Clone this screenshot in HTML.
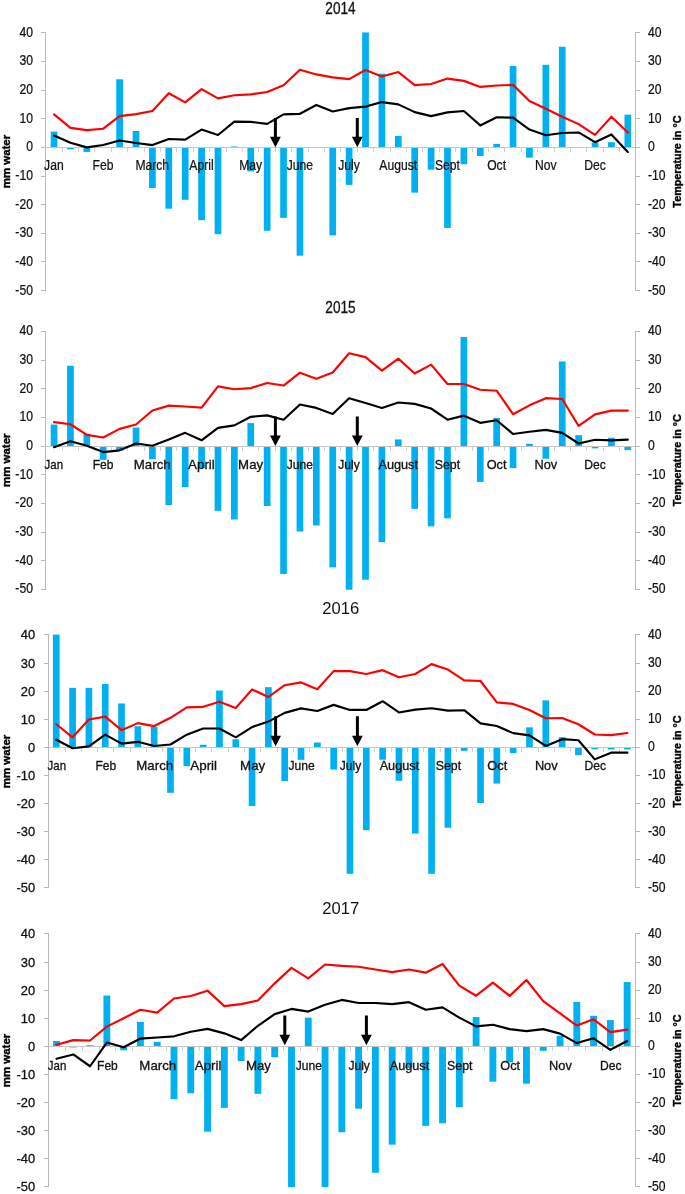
<!DOCTYPE html>
<html lang="en">
<head>
<meta charset="utf-8">
<title>Water balance and temperature 2014-2017</title>
<style>
html,body{margin:0;padding:0;background:#fff;}
body{width:685px;height:1194px;overflow:hidden;}
svg{display:block;will-change:transform;}
text{font-family:"Liberation Sans",Arial,Helvetica,sans-serif;fill:#111;}
.nar{font-size:15px;stroke:#111;stroke-width:0.25px;}
.cal{font-size:12.9px;stroke:#111;stroke-width:0.3px;}
.xcal{font-size:12.6px;stroke:#111;stroke-width:0.3px;}
.tn{font-size:16.4px;stroke:#111;stroke-width:0.3px;}
.tc{font-size:16.6px;}
.ax{stroke:#b9b9b9;stroke-width:1;fill:none;shape-rendering:crispEdges;}
.axh{stroke:#c6c6c6;}
.axt{stroke:#d0d0d0;}
.bar{fill:#00b0f0;}
.red{stroke:#ff0000;stroke-width:2.15;fill:none;stroke-linejoin:round;stroke-linecap:round;}
.blk{stroke:#000;stroke-width:2.15;fill:none;stroke-linejoin:round;stroke-linecap:round;}
.lab{font-weight:bold;font-size:11.8px;fill:#000;stroke:#000;stroke-width:0.4px;}
</style>
</head>
<body>
<svg width="685" height="1194" viewBox="0 0 685 1194">
<rect x="0" y="0" width="685" height="1194" fill="#ffffff"/>
<g id="panel1">
<text transform="translate(340.5 14) scale(0.83 1)" class="tn" text-anchor="middle">2014</text>
<g class="bar">
<rect x="50.7" y="131.58" width="6.69" height="15.77"/>
<rect x="67.09" y="147.35" width="6.69" height="2.02"/>
<rect x="83.49" y="147.35" width="6.69" height="4.6"/>
<rect x="116.27" y="79.28" width="6.69" height="68.07"/>
<rect x="132.67" y="131" width="6.69" height="16.35"/>
<rect x="149.06" y="147.35" width="6.69" height="40.7"/>
<rect x="165.45" y="147.35" width="6.69" height="61.34"/>
<rect x="181.84" y="147.35" width="6.69" height="52.45"/>
<rect x="198.24" y="147.35" width="6.69" height="72.8"/>
<rect x="214.63" y="147.35" width="6.69" height="86.84"/>
<rect x="231.02" y="146.48" width="6.69" height="0.87"/>
<rect x="247.42" y="147.35" width="6.69" height="24.08"/>
<rect x="263.81" y="147.35" width="6.69" height="83.4"/>
<rect x="280.2" y="147.35" width="6.69" height="70.51"/>
<rect x="296.6" y="147.35" width="6.69" height="108.33"/>
<rect x="329.38" y="147.35" width="6.69" height="87.99"/>
<rect x="345.77" y="147.35" width="6.69" height="37.55"/>
<rect x="362.17" y="32.43" width="6.69" height="114.92"/>
<rect x="378.56" y="73.69" width="6.69" height="73.66"/>
<rect x="394.95" y="135.87" width="6.69" height="11.48"/>
<rect x="411.35" y="147.35" width="6.69" height="45.29"/>
<rect x="427.74" y="147.35" width="6.69" height="22.36"/>
<rect x="444.13" y="147.35" width="6.69" height="80.54"/>
<rect x="460.53" y="147.35" width="6.69" height="16.92"/>
<rect x="476.92" y="147.35" width="6.69" height="8.61"/>
<rect x="493.31" y="143.9" width="6.69" height="3.45"/>
<rect x="509.71" y="65.95" width="6.69" height="81.4"/>
<rect x="526.1" y="147.35" width="6.69" height="10.33"/>
<rect x="542.49" y="64.81" width="6.69" height="82.54"/>
<rect x="558.88" y="46.76" width="6.69" height="100.59"/>
<rect x="591.67" y="142.47" width="6.69" height="4.88"/>
<rect x="608.06" y="142.18" width="6.69" height="5.17"/>
<rect x="624.46" y="114.67" width="6.69" height="32.68"/>
</g>
<path class="ax" d="M45.5 32 V291 M635.5 32 V291 M41 32.5 H45.5 M635.5 32.5 H640 M41 61.5 H45.5 M635.5 61.5 H640 M41 90.5 H45.5 M635.5 90.5 H640 M41 118.5 H45.5 M635.5 118.5 H640 M41 147.5 H45.5 M635.5 147.5 H640 M41 176.5 H45.5 M635.5 176.5 H640 M41 204.5 H45.5 M635.5 204.5 H640 M41 233.5 H45.5 M635.5 233.5 H640 M41 261.5 H45.5 M635.5 261.5 H640 M41 290.5 H45.5 M635.5 290.5 H640"/>
<path class="ax axh" d="M45.5 147.5 H635.5"/>
<path class="ax axt" d="M62.5 148 V152 M78.5 148 V152 M94.5 148 V152 M111.5 148 V152 M127.5 148 V152 M144.5 148 V152 M160.5 148 V152 M176.5 148 V152 M193.5 148 V152 M209.5 148 V152 M226.5 148 V152 M242.5 148 V152 M258.5 148 V152 M275.5 148 V152 M291.5 148 V152 M308.5 148 V152 M324.5 148 V152 M340.5 148 V152 M357.5 148 V152 M373.5 148 V152 M390.5 148 V152 M406.5 148 V152 M422.5 148 V152 M439.5 148 V152 M455.5 148 V152 M472.5 148 V152 M488.5 148 V152 M504.5 148 V152 M521.5 148 V152 M537.5 148 V152 M554.5 148 V152 M570.5 148 V152 M586.5 148 V152 M603.5 148 V152 M619.5 148 V152"/>
<text transform="translate(32.9 36.63) scale(0.81 1)" class="nar" text-anchor="end">40</text>
<text transform="translate(648 36.73) scale(0.81 1)" class="nar" text-anchor="start">40</text>
<text transform="translate(32.9 65.28) scale(0.81 1)" class="nar" text-anchor="end">30</text>
<text transform="translate(648 65.38) scale(0.81 1)" class="nar" text-anchor="start">30</text>
<text transform="translate(32.9 93.94) scale(0.81 1)" class="nar" text-anchor="end">20</text>
<text transform="translate(648 94.04) scale(0.81 1)" class="nar" text-anchor="start">20</text>
<text transform="translate(32.9 122.59) scale(0.81 1)" class="nar" text-anchor="end">10</text>
<text transform="translate(648 122.69) scale(0.81 1)" class="nar" text-anchor="start">10</text>
<text transform="translate(32.9 151.25) scale(0.81 1)" class="nar" text-anchor="end">0</text>
<text transform="translate(648 151.35) scale(0.81 1)" class="nar" text-anchor="start">0</text>
<text transform="translate(32.9 179.91) scale(0.81 1)" class="nar" text-anchor="end">-10</text>
<text transform="translate(648 180.01) scale(0.81 1)" class="nar" text-anchor="start">-10</text>
<text transform="translate(32.9 208.56) scale(0.81 1)" class="nar" text-anchor="end">-20</text>
<text transform="translate(648 208.66) scale(0.81 1)" class="nar" text-anchor="start">-20</text>
<text transform="translate(32.9 237.22) scale(0.81 1)" class="nar" text-anchor="end">-30</text>
<text transform="translate(648 237.32) scale(0.81 1)" class="nar" text-anchor="start">-30</text>
<text transform="translate(32.9 265.87) scale(0.81 1)" class="nar" text-anchor="end">-40</text>
<text transform="translate(648 265.97) scale(0.81 1)" class="nar" text-anchor="start">-40</text>
<text transform="translate(32.9 294.53) scale(0.81 1)" class="nar" text-anchor="end">-50</text>
<text transform="translate(648 294.63) scale(0.81 1)" class="nar" text-anchor="start">-50</text>
<text transform="translate(53.85 169.6) scale(0.81 1)" class="nar" text-anchor="middle">Jan</text>
<text transform="translate(103.05 169.6) scale(0.81 1)" class="nar" text-anchor="middle">Feb</text>
<text transform="translate(152.24 169.6) scale(0.81 1)" class="nar" text-anchor="middle">March</text>
<text transform="translate(201.44 169.6) scale(0.81 1)" class="nar" text-anchor="middle">April</text>
<text transform="translate(250.63 169.6) scale(0.81 1)" class="nar" text-anchor="middle">May</text>
<text transform="translate(299.83 169.6) scale(0.81 1)" class="nar" text-anchor="middle">June</text>
<text transform="translate(349.02 169.6) scale(0.81 1)" class="nar" text-anchor="middle">July</text>
<text transform="translate(398.22 169.6) scale(0.81 1)" class="nar" text-anchor="middle">August</text>
<text transform="translate(447.42 169.6) scale(0.81 1)" class="nar" text-anchor="middle">Sept</text>
<text transform="translate(496.61 169.6) scale(0.81 1)" class="nar" text-anchor="middle">Oct</text>
<text transform="translate(545.81 169.6) scale(0.81 1)" class="nar" text-anchor="middle">Nov</text>
<text transform="translate(595 169.6) scale(0.81 1)" class="nar" text-anchor="middle">Dec</text>
<text transform="translate(10 161.55) rotate(-90) scale(0.972 1)" class="lab" text-anchor="middle">mm water</text>
<text transform="translate(680.8 161.55) rotate(-90) scale(0.915 1)" class="lab" text-anchor="middle">Temperature in °C</text>
<polyline class="red" points="54.05,114.4 70.44,127.86 86.83,130.16 103.23,128.72 119.62,116.12 136.01,114.11 152.4,110.96 168.8,93.19 185.19,102.36 201.58,89.18 217.98,98.35 234.37,95.2 250.76,94.34 267.16,92.04 283.55,85.17 299.94,69.69 316.34,74.42 332.73,77.43 349.12,79.15 365.51,69.98 381.91,76.57 398.3,71.99 414.69,85.17 431.09,84.02 447.48,78.58 463.87,80.87 480.27,86.89 496.66,85.45 513.05,84.88 529.45,100.93 545.84,108.66 562.23,116.69 578.62,124.14 595.02,134.88 611.41,116.69 627.8,132.45"/>
<polyline class="blk" points="54.05,135.6 70.44,142.77 86.83,147.35 103.23,145.06 119.62,140.47 136.01,143.05 152.4,145.06 168.8,139.04 185.19,139.61 201.58,129.58 217.98,135.03 234.37,121.56 250.76,121.85 267.16,123.85 283.55,114.4 299.94,113.82 316.34,104.94 332.73,111.53 349.12,108.09 365.51,106.66 381.91,102.07 398.3,104.37 414.69,112.1 431.09,116.12 447.48,112.39 463.87,110.96 480.27,125.43 496.66,117.26 513.05,117.69 529.45,129.58 545.84,135.31 562.23,133.02 578.62,132.45 595.02,142.19 611.41,134.45 627.8,151.93"/>
<path fill="#000" d="M273.9 118.1 H276.9 V136.8 H280.8 L275.4 147.3 L270 136.8 H273.9 Z"/>
<path fill="#000" d="M355.8 118.1 H358.8 V136.8 H362.7 L357.3 147.3 L351.9 136.8 H355.8 Z"/>
</g>
<g id="panel2">
<text transform="translate(340.5 312.7) scale(0.83 1)" class="tn" text-anchor="middle">2015</text>
<g class="bar">
<rect x="50.7" y="424.54" width="6.69" height="21.52"/>
<rect x="67.09" y="365.75" width="6.69" height="80.31"/>
<rect x="83.49" y="433.72" width="6.69" height="12.34"/>
<rect x="99.88" y="446.06" width="6.69" height="13.78"/>
<rect x="116.27" y="446.06" width="6.69" height="4.6"/>
<rect x="132.67" y="427.55" width="6.69" height="18.51"/>
<rect x="149.06" y="446.06" width="6.69" height="13.2"/>
<rect x="165.45" y="446.06" width="6.69" height="58.95"/>
<rect x="181.84" y="446.06" width="6.69" height="41.02"/>
<rect x="198.24" y="446.06" width="6.69" height="22.1"/>
<rect x="214.63" y="446.06" width="6.69" height="64.82"/>
<rect x="231.02" y="446.06" width="6.69" height="73.43"/>
<rect x="247.42" y="423.1" width="6.69" height="22.96"/>
<rect x="263.81" y="446.06" width="6.69" height="59.95"/>
<rect x="280.2" y="446.06" width="6.69" height="127.92"/>
<rect x="296.6" y="446.06" width="6.69" height="85.47"/>
<rect x="312.99" y="446.06" width="6.69" height="79.45"/>
<rect x="329.38" y="446.06" width="6.69" height="121.32"/>
<rect x="345.77" y="446.06" width="6.69" height="143.69"/>
<rect x="362.17" y="446.06" width="6.69" height="133.65"/>
<rect x="378.56" y="446.06" width="6.69" height="96.08"/>
<rect x="394.95" y="439.45" width="6.69" height="6.61"/>
<rect x="411.35" y="446.06" width="6.69" height="62.82"/>
<rect x="427.74" y="446.06" width="6.69" height="80.31"/>
<rect x="444.13" y="446.06" width="6.69" height="72.28"/>
<rect x="460.53" y="337.07" width="6.69" height="108.99"/>
<rect x="476.92" y="446.06" width="6.69" height="35.86"/>
<rect x="493.31" y="417.94" width="6.69" height="28.12"/>
<rect x="509.71" y="446.06" width="6.69" height="22.1"/>
<rect x="526.1" y="443.75" width="6.69" height="2.31"/>
<rect x="542.49" y="446.06" width="6.69" height="12.63"/>
<rect x="558.88" y="361.45" width="6.69" height="84.61"/>
<rect x="575.28" y="435.15" width="6.69" height="10.91"/>
<rect x="591.67" y="446.06" width="6.69" height="2.31"/>
<rect x="608.06" y="437.73" width="6.69" height="8.33"/>
<rect x="624.46" y="446.06" width="6.69" height="4.03"/>
</g>
<path class="ax" d="M45.5 331 V590 M635.5 331 V590 M41 331.5 H45.5 M635.5 331.5 H640 M41 360.5 H45.5 M635.5 360.5 H640 M41 388.5 H45.5 M635.5 388.5 H640 M41 417.5 H45.5 M635.5 417.5 H640 M41 446.5 H45.5 M635.5 446.5 H640 M41 474.5 H45.5 M635.5 474.5 H640 M41 503.5 H45.5 M635.5 503.5 H640 M41 532.5 H45.5 M635.5 532.5 H640 M41 560.5 H45.5 M635.5 560.5 H640 M41 589.5 H45.5 M635.5 589.5 H640"/>
<path class="ax axh" d="M45.5 446.5 H635.5"/>
<path class="ax axt" d="M62.5 447 V451 M78.5 447 V451 M94.5 447 V451 M111.5 447 V451 M127.5 447 V451 M144.5 447 V451 M160.5 447 V451 M176.5 447 V451 M193.5 447 V451 M209.5 447 V451 M226.5 447 V451 M242.5 447 V451 M258.5 447 V451 M275.5 447 V451 M291.5 447 V451 M308.5 447 V451 M324.5 447 V451 M340.5 447 V451 M357.5 447 V451 M373.5 447 V451 M390.5 447 V451 M406.5 447 V451 M422.5 447 V451 M439.5 447 V451 M455.5 447 V451 M472.5 447 V451 M488.5 447 V451 M504.5 447 V451 M521.5 447 V451 M537.5 447 V451 M554.5 447 V451 M570.5 447 V451 M586.5 447 V451 M603.5 447 V451 M619.5 447 V451"/>
<text transform="translate(32.9 335.25) scale(0.81 1)" class="nar" text-anchor="end">40</text>
<text transform="translate(648 335.35) scale(0.81 1)" class="nar" text-anchor="start">40</text>
<text transform="translate(32.9 363.93) scale(0.81 1)" class="nar" text-anchor="end">30</text>
<text transform="translate(648 364.03) scale(0.81 1)" class="nar" text-anchor="start">30</text>
<text transform="translate(32.9 392.6) scale(0.81 1)" class="nar" text-anchor="end">20</text>
<text transform="translate(648 392.7) scale(0.81 1)" class="nar" text-anchor="start">20</text>
<text transform="translate(32.9 421.28) scale(0.81 1)" class="nar" text-anchor="end">10</text>
<text transform="translate(648 421.38) scale(0.81 1)" class="nar" text-anchor="start">10</text>
<text transform="translate(32.9 449.96) scale(0.81 1)" class="nar" text-anchor="end">0</text>
<text transform="translate(648 450.06) scale(0.81 1)" class="nar" text-anchor="start">0</text>
<text transform="translate(32.9 478.64) scale(0.81 1)" class="nar" text-anchor="end">-10</text>
<text transform="translate(648 478.74) scale(0.81 1)" class="nar" text-anchor="start">-10</text>
<text transform="translate(32.9 507.32) scale(0.81 1)" class="nar" text-anchor="end">-20</text>
<text transform="translate(648 507.42) scale(0.81 1)" class="nar" text-anchor="start">-20</text>
<text transform="translate(32.9 535.99) scale(0.81 1)" class="nar" text-anchor="end">-30</text>
<text transform="translate(648 536.09) scale(0.81 1)" class="nar" text-anchor="start">-30</text>
<text transform="translate(32.9 564.67) scale(0.81 1)" class="nar" text-anchor="end">-40</text>
<text transform="translate(648 564.77) scale(0.81 1)" class="nar" text-anchor="start">-40</text>
<text transform="translate(32.9 593.35) scale(0.81 1)" class="nar" text-anchor="end">-50</text>
<text transform="translate(648 593.45) scale(0.81 1)" class="nar" text-anchor="start">-50</text>
<text x="53.85" y="469.1" class="xcal" text-anchor="middle" textLength="18.5" lengthAdjust="spacingAndGlyphs">Jan</text>
<text x="103.05" y="469.1" class="xcal" text-anchor="middle" textLength="20.7" lengthAdjust="spacingAndGlyphs">Feb</text>
<text x="152.24" y="469.1" class="xcal" text-anchor="middle" textLength="36.8" lengthAdjust="spacingAndGlyphs">March</text>
<text x="201.44" y="469.1" class="xcal" text-anchor="middle" textLength="26.8" lengthAdjust="spacingAndGlyphs">April</text>
<text x="250.63" y="469.1" class="xcal" text-anchor="middle" textLength="25" lengthAdjust="spacingAndGlyphs">May</text>
<text x="299.83" y="469.1" class="xcal" text-anchor="middle" textLength="26.1" lengthAdjust="spacingAndGlyphs">June</text>
<text x="349.02" y="469.1" class="xcal" text-anchor="middle" textLength="21.4" lengthAdjust="spacingAndGlyphs">July</text>
<text x="398.22" y="469.1" class="xcal" text-anchor="middle" textLength="39.6" lengthAdjust="spacingAndGlyphs">August</text>
<text x="447.42" y="469.1" class="xcal" text-anchor="middle" textLength="25.4" lengthAdjust="spacingAndGlyphs">Sept</text>
<text x="496.61" y="469.1" class="xcal" text-anchor="middle" textLength="19.9" lengthAdjust="spacingAndGlyphs">Oct</text>
<text x="545.81" y="469.1" class="xcal" text-anchor="middle" textLength="22.75" lengthAdjust="spacingAndGlyphs">Nov</text>
<text x="595" y="469.1" class="xcal" text-anchor="middle" textLength="21.5" lengthAdjust="spacingAndGlyphs">Dec</text>
<text transform="translate(10 460.26) rotate(-90) scale(0.972 1)" class="lab" text-anchor="middle">mm water</text>
<text transform="translate(680.8 460.26) rotate(-90) scale(0.915 1)" class="lab" text-anchor="middle">Temperature in °C</text>
<polyline class="red" points="54.05,422.11 70.44,424.26 86.83,434.88 103.23,437.46 119.62,428.85 136.01,424.55 152.4,410.5 168.8,405.62 185.19,406.48 201.58,407.63 217.98,386.41 234.37,389.28 250.76,388.13 267.16,382.97 283.55,385.55 299.94,372.64 316.34,378.67 332.73,372.5 349.12,353.29 365.51,357.16 381.91,370.64 398.3,358.59 414.69,373.51 431.09,364.62 447.48,383.97 463.87,383.97 480.27,389.71 496.66,390.71 513.05,414.23 529.45,405.34 545.84,398.17 562.23,399.03 578.62,425.99 595.02,414.37 611.41,410.64 627.8,410.64"/>
<polyline class="blk" points="54.05,447.21 70.44,441.33 86.83,445.77 103.23,452.08 119.62,450.36 136.01,443.48 152.4,445.77 168.8,439.46 185.19,432.87 201.58,440.32 217.98,427.85 234.37,425.41 250.76,416.81 267.16,415.37 283.55,419.68 299.94,404.48 316.34,407.92 332.73,413.94 349.12,398.17 365.51,403.04 381.91,407.92 398.3,402.47 414.69,403.9 431.09,408.49 447.48,419.68 463.87,415.66 480.27,422.83 496.66,420.25 513.05,434.02 529.45,431.72 545.84,429.86 562.23,432.87 578.62,443.48 595.02,439.75 611.41,440.32 627.8,439.61"/>
<path fill="#000" d="M273.9 416.6 H276.9 V435.5 H280.8 L275.4 446 L270 435.5 H273.9 Z"/>
<path fill="#000" d="M355.8 416.6 H358.8 V435.5 H362.7 L357.3 446 L351.9 435.5 H355.8 Z"/>
</g>
<g id="panel3">
<text x="340.7" y="614.1" class="tc" text-anchor="middle">2016</text>
<g class="bar">
<rect x="52.93" y="634.6" width="6.66" height="112.7"/>
<rect x="69.25" y="687.85" width="6.66" height="59.45"/>
<rect x="85.57" y="687.85" width="6.66" height="59.45"/>
<rect x="101.88" y="684.06" width="6.66" height="63.24"/>
<rect x="118.2" y="703.45" width="6.66" height="43.85"/>
<rect x="134.52" y="726.21" width="6.66" height="21.09"/>
<rect x="150.84" y="726.63" width="6.66" height="20.67"/>
<rect x="167.16" y="747.3" width="6.66" height="45.54"/>
<rect x="183.47" y="747.3" width="6.66" height="18.85"/>
<rect x="199.79" y="744.75" width="6.66" height="2.55"/>
<rect x="216.11" y="690.52" width="6.66" height="56.78"/>
<rect x="232.43" y="739.27" width="6.66" height="8.03"/>
<rect x="248.75" y="747.3" width="6.66" height="58.75"/>
<rect x="265.06" y="687.15" width="6.66" height="60.15"/>
<rect x="281.38" y="747.3" width="6.66" height="33.74"/>
<rect x="297.7" y="747.3" width="6.66" height="12.52"/>
<rect x="314.02" y="742.5" width="6.66" height="4.8"/>
<rect x="330.34" y="747.3" width="6.66" height="22.22"/>
<rect x="346.65" y="747.3" width="6.66" height="126.47"/>
<rect x="362.97" y="747.3" width="6.66" height="82.91"/>
<rect x="379.29" y="747.3" width="6.66" height="12.38"/>
<rect x="395.61" y="747.3" width="6.66" height="33.46"/>
<rect x="411.93" y="747.3" width="6.66" height="86.29"/>
<rect x="428.24" y="747.3" width="6.66" height="126.47"/>
<rect x="444.56" y="747.3" width="6.66" height="80.38"/>
<rect x="460.88" y="747.3" width="6.66" height="3.53"/>
<rect x="477.2" y="747.3" width="6.66" height="55.66"/>
<rect x="493.52" y="747.3" width="6.66" height="36.27"/>
<rect x="509.84" y="747.3" width="6.66" height="5.78"/>
<rect x="526.15" y="727.33" width="6.66" height="19.97"/>
<rect x="542.47" y="700.35" width="6.66" height="46.95"/>
<rect x="558.79" y="737.16" width="6.66" height="10.13"/>
<rect x="575.11" y="747.3" width="6.66" height="7.89"/>
<rect x="591.43" y="747.3" width="6.66" height="1.99"/>
<rect x="607.74" y="747.3" width="6.66" height="2.13"/>
<rect x="624.06" y="747.3" width="6.66" height="2.13"/>
</g>
<path class="ax" d="M48.5 634 V888 M635.5 634 V888 M44 634.5 H48.5 M635.5 634.5 H640 M44 663.5 H48.5 M635.5 663.5 H640 M44 691.5 H48.5 M635.5 691.5 H640 M44 719.5 H48.5 M635.5 719.5 H640 M44 747.5 H48.5 M635.5 747.5 H640 M44 775.5 H48.5 M635.5 775.5 H640 M44 803.5 H48.5 M635.5 803.5 H640 M44 831.5 H48.5 M635.5 831.5 H640 M44 859.5 H48.5 M635.5 859.5 H640 M44 887.5 H48.5 M635.5 887.5 H640"/>
<path class="ax axh" d="M48.5 747.5 H635.5"/>
<path class="ax axt" d="M65.5 748 V752 M81.5 748 V752 M97.5 748 V752 M113.5 748 V752 M130.5 748 V752 M146.5 748 V752 M162.5 748 V752 M179.5 748 V752 M195.5 748 V752 M211.5 748 V752 M228.5 748 V752 M244.5 748 V752 M260.5 748 V752 M277.5 748 V752 M293.5 748 V752 M309.5 748 V752 M326.5 748 V752 M342.5 748 V752 M358.5 748 V752 M374.5 748 V752 M391.5 748 V752 M407.5 748 V752 M423.5 748 V752 M440.5 748 V752 M456.5 748 V752 M472.5 748 V752 M489.5 748 V752 M505.5 748 V752 M521.5 748 V752 M538.5 748 V752 M554.5 748 V752 M570.5 748 V752 M587.5 748 V752 M603.5 748 V752 M619.5 748 V752"/>
<text x="35.1" y="639.4" class="cal" text-anchor="end">40</text>
<text transform="translate(648 638.9) scale(0.81 1)" class="nar" text-anchor="start">40</text>
<text x="35.1" y="667.5" class="cal" text-anchor="end">30</text>
<text transform="translate(648 667) scale(0.81 1)" class="nar" text-anchor="start">30</text>
<text x="35.1" y="695.6" class="cal" text-anchor="end">20</text>
<text transform="translate(648 695.1) scale(0.81 1)" class="nar" text-anchor="start">20</text>
<text x="35.1" y="723.7" class="cal" text-anchor="end">10</text>
<text transform="translate(648 723.2) scale(0.81 1)" class="nar" text-anchor="start">10</text>
<text x="35.1" y="751.8" class="cal" text-anchor="end">0</text>
<text transform="translate(648 751.3) scale(0.81 1)" class="nar" text-anchor="start">0</text>
<text x="35.1" y="779.9" class="cal" text-anchor="end">-10</text>
<text transform="translate(648 779.4) scale(0.81 1)" class="nar" text-anchor="start">-10</text>
<text x="35.1" y="808" class="cal" text-anchor="end">-20</text>
<text transform="translate(648 807.5) scale(0.81 1)" class="nar" text-anchor="start">-20</text>
<text x="35.1" y="836.1" class="cal" text-anchor="end">-30</text>
<text transform="translate(648 835.6) scale(0.81 1)" class="nar" text-anchor="start">-30</text>
<text x="35.1" y="864.2" class="cal" text-anchor="end">-40</text>
<text transform="translate(648 863.7) scale(0.81 1)" class="nar" text-anchor="start">-40</text>
<text x="35.1" y="892.3" class="cal" text-anchor="end">-50</text>
<text transform="translate(648 891.8) scale(0.81 1)" class="nar" text-anchor="start">-50</text>
<text x="56.86" y="770.2" class="xcal" text-anchor="middle" textLength="18.5" lengthAdjust="spacingAndGlyphs">Jan</text>
<text x="105.8" y="770.2" class="xcal" text-anchor="middle" textLength="20.7" lengthAdjust="spacingAndGlyphs">Feb</text>
<text x="154.74" y="770.2" class="xcal" text-anchor="middle" textLength="36.8" lengthAdjust="spacingAndGlyphs">March</text>
<text x="203.68" y="770.2" class="xcal" text-anchor="middle" textLength="26.8" lengthAdjust="spacingAndGlyphs">April</text>
<text x="252.62" y="770.2" class="xcal" text-anchor="middle" textLength="25" lengthAdjust="spacingAndGlyphs">May</text>
<text x="301.57" y="770.2" class="xcal" text-anchor="middle" textLength="26.1" lengthAdjust="spacingAndGlyphs">June</text>
<text x="350.51" y="770.2" class="xcal" text-anchor="middle" textLength="21.4" lengthAdjust="spacingAndGlyphs">July</text>
<text x="399.45" y="770.2" class="xcal" text-anchor="middle" textLength="39.6" lengthAdjust="spacingAndGlyphs">August</text>
<text x="448.39" y="770.2" class="xcal" text-anchor="middle" textLength="25.4" lengthAdjust="spacingAndGlyphs">Sept</text>
<text x="497.33" y="770.2" class="xcal" text-anchor="middle" textLength="19.9" lengthAdjust="spacingAndGlyphs">Oct</text>
<text x="546.27" y="770.2" class="xcal" text-anchor="middle" textLength="22.75" lengthAdjust="spacingAndGlyphs">Nov</text>
<text x="595.22" y="770.2" class="xcal" text-anchor="middle" textLength="21.5" lengthAdjust="spacingAndGlyphs">Dec</text>
<text transform="translate(10 761.5) rotate(-90) scale(0.972 1)" class="lab" text-anchor="middle">mm water</text>
<text transform="translate(680.8 761.5) rotate(-90) scale(0.915 1)" class="lab" text-anchor="middle">Temperature in °C</text>
<polyline class="red" points="56.26,724.26 72.58,737.32 88.9,719.48 105.21,716.67 121.53,730.16 137.85,723.13 154.17,726.08 170.49,717.79 186.8,707.4 203.12,706.84 219.44,701.78 235.76,707.96 252.08,689.41 268.39,697 284.71,685.2 301.03,682.39 317.35,689.27 333.67,671.15 349.98,671.15 366.3,673.96 382.62,670.17 398.94,677.19 415.26,673.96 431.57,664.12 447.89,669.6 464.21,680.42 480.53,680.98 496.85,702.34 513.16,703.89 529.48,710.07 545.8,718.22 562.12,718.08 578.44,724.26 594.75,734.51 611.07,735.08 627.39,732.97"/>
<polyline class="blk" points="56.26,739.71 72.58,748.28 88.9,746.32 105.21,734.65 121.53,743.65 137.85,741.82 154.17,746.04 170.49,744.49 186.8,734.65 203.12,728.47 219.44,728.47 235.76,737.32 252.08,727.07 268.39,721.59 284.71,712.88 301.03,708.38 317.35,711.05 333.67,704.87 349.98,709.93 366.3,709.93 382.62,701.22 398.94,712.46 415.26,709.65 431.57,708.24 447.89,710.63 464.21,710.21 480.53,723.41 496.85,725.94 513.16,733.11 529.48,735.36 545.8,745.89 562.12,739.15 578.44,740.27 594.75,759.38 611.07,752.64 627.39,752.64"/>
<path fill="#000" d="M274.1 716.3 H277.1 V735.7 H281 L275.6 746.2 L270.2 735.7 H274.1 Z"/>
<path fill="#000" d="M355.9 716.3 H358.9 V735.7 H362.8 L357.4 746.2 L352 735.7 H355.9 Z"/>
</g>
<g id="panel4">
<text x="340.7" y="913.9" class="tc" text-anchor="middle">2017</text>
<g class="bar">
<rect x="53.07" y="1040.94" width="6.85" height="5.36"/>
<rect x="69.85" y="1046.3" width="6.85" height="1.14"/>
<rect x="86.64" y="1045.3" width="6.85" height="1"/>
<rect x="103.42" y="995.56" width="6.85" height="50.74"/>
<rect x="120.2" y="1046.3" width="6.85" height="3.95"/>
<rect x="136.99" y="1021.83" width="6.85" height="24.47"/>
<rect x="153.77" y="1041.79" width="6.85" height="4.51"/>
<rect x="170.56" y="1046.3" width="6.85" height="52.85"/>
<rect x="187.34" y="1046.3" width="6.85" height="46.95"/>
<rect x="204.13" y="1046.3" width="6.85" height="85.44"/>
<rect x="220.91" y="1046.3" width="6.85" height="61.56"/>
<rect x="237.69" y="1046.3" width="6.85" height="14.77"/>
<rect x="254.48" y="1046.3" width="6.85" height="47.51"/>
<rect x="271.26" y="1046.3" width="6.85" height="10.98"/>
<rect x="288.05" y="1046.3" width="6.85" height="140.8"/>
<rect x="304.83" y="1017.62" width="6.85" height="28.68"/>
<rect x="321.62" y="1046.3" width="6.85" height="140.8"/>
<rect x="338.4" y="1046.3" width="6.85" height="86"/>
<rect x="355.18" y="1046.3" width="6.85" height="62.4"/>
<rect x="371.97" y="1046.3" width="6.85" height="126.47"/>
<rect x="388.75" y="1046.3" width="6.85" height="98.37"/>
<rect x="405.54" y="1046.3" width="6.85" height="21.66"/>
<rect x="422.32" y="1046.3" width="6.85" height="79.54"/>
<rect x="439.11" y="1046.3" width="6.85" height="77.01"/>
<rect x="455.89" y="1046.3" width="6.85" height="61"/>
<rect x="472.67" y="1017.06" width="6.85" height="29.24"/>
<rect x="489.46" y="1046.3" width="6.85" height="35.42"/>
<rect x="506.24" y="1046.3" width="6.85" height="16.04"/>
<rect x="523.03" y="1046.3" width="6.85" height="37.39"/>
<rect x="539.81" y="1046.3" width="6.85" height="4.51"/>
<rect x="556.6" y="1035.74" width="6.85" height="10.56"/>
<rect x="573.38" y="1001.88" width="6.85" height="44.42"/>
<rect x="590.16" y="1015.79" width="6.85" height="30.51"/>
<rect x="606.95" y="1020.01" width="6.85" height="26.29"/>
<rect x="623.73" y="982.07" width="6.85" height="64.23"/>
</g>
<path class="ax" d="M48.5 933 V1187 M635.5 933 V1187 M44 933.5 H48.5 M635.5 933.5 H640 M44 962.5 H48.5 M635.5 962.5 H640 M44 990.5 H48.5 M635.5 990.5 H640 M44 1018.5 H48.5 M635.5 1018.5 H640 M44 1046.5 H48.5 M635.5 1046.5 H640 M44 1074.5 H48.5 M635.5 1074.5 H640 M44 1102.5 H48.5 M635.5 1102.5 H640 M44 1130.5 H48.5 M635.5 1130.5 H640 M44 1158.5 H48.5 M635.5 1158.5 H640 M44 1186.5 H48.5 M635.5 1186.5 H640"/>
<path class="ax axh" d="M48.5 1046.5 H635.5"/>
<path class="ax axt" d="M65.5 1047 V1051 M82.5 1047 V1051 M99.5 1047 V1051 M115.5 1047 V1051 M132.5 1047 V1051 M149.5 1047 V1051 M166.5 1047 V1051 M182.5 1047 V1051 M199.5 1047 V1051 M216.5 1047 V1051 M233.5 1047 V1051 M250.5 1047 V1051 M266.5 1047 V1051 M283.5 1047 V1051 M300.5 1047 V1051 M317.5 1047 V1051 M333.5 1047 V1051 M350.5 1047 V1051 M367.5 1047 V1051 M384.5 1047 V1051 M401.5 1047 V1051 M417.5 1047 V1051 M434.5 1047 V1051 M451.5 1047 V1051 M468.5 1047 V1051 M484.5 1047 V1051 M501.5 1047 V1051 M518.5 1047 V1051 M535.5 1047 V1051 M552.5 1047 V1051 M568.5 1047 V1051 M585.5 1047 V1051 M602.5 1047 V1051 M619.5 1047 V1051"/>
<text x="35.1" y="938.4" class="cal" text-anchor="end">40</text>
<text transform="translate(648 937.9) scale(0.81 1)" class="nar" text-anchor="start">40</text>
<text x="35.1" y="966.5" class="cal" text-anchor="end">30</text>
<text transform="translate(648 966) scale(0.81 1)" class="nar" text-anchor="start">30</text>
<text x="35.1" y="994.6" class="cal" text-anchor="end">20</text>
<text transform="translate(648 994.1) scale(0.81 1)" class="nar" text-anchor="start">20</text>
<text x="35.1" y="1022.7" class="cal" text-anchor="end">10</text>
<text transform="translate(648 1022.2) scale(0.81 1)" class="nar" text-anchor="start">10</text>
<text x="35.1" y="1050.8" class="cal" text-anchor="end">0</text>
<text transform="translate(648 1050.3) scale(0.81 1)" class="nar" text-anchor="start">0</text>
<text x="35.1" y="1078.9" class="cal" text-anchor="end">-10</text>
<text transform="translate(648 1078.4) scale(0.81 1)" class="nar" text-anchor="start">-10</text>
<text x="35.1" y="1107" class="cal" text-anchor="end">-20</text>
<text transform="translate(648 1106.5) scale(0.81 1)" class="nar" text-anchor="start">-20</text>
<text x="35.1" y="1135.1" class="cal" text-anchor="end">-30</text>
<text transform="translate(648 1134.6) scale(0.81 1)" class="nar" text-anchor="start">-30</text>
<text x="35.1" y="1163.2" class="cal" text-anchor="end">-40</text>
<text transform="translate(648 1162.7) scale(0.81 1)" class="nar" text-anchor="start">-40</text>
<text x="35.1" y="1191.3" class="cal" text-anchor="end">-50</text>
<text transform="translate(648 1190.8) scale(0.81 1)" class="nar" text-anchor="start">-50</text>
<text x="57.09" y="1069.8" class="xcal" text-anchor="middle" textLength="18.5" lengthAdjust="spacingAndGlyphs">Jan</text>
<text x="107.43" y="1069.8" class="xcal" text-anchor="middle" textLength="20.7" lengthAdjust="spacingAndGlyphs">Feb</text>
<text x="157.77" y="1069.8" class="xcal" text-anchor="middle" textLength="36.8" lengthAdjust="spacingAndGlyphs">March</text>
<text x="208.11" y="1069.8" class="xcal" text-anchor="middle" textLength="26.8" lengthAdjust="spacingAndGlyphs">April</text>
<text x="258.45" y="1069.8" class="xcal" text-anchor="middle" textLength="25" lengthAdjust="spacingAndGlyphs">May</text>
<text x="308.79" y="1069.8" class="xcal" text-anchor="middle" textLength="26.1" lengthAdjust="spacingAndGlyphs">June</text>
<text x="359.13" y="1069.8" class="xcal" text-anchor="middle" textLength="21.4" lengthAdjust="spacingAndGlyphs">July</text>
<text x="409.47" y="1069.8" class="xcal" text-anchor="middle" textLength="39.6" lengthAdjust="spacingAndGlyphs">August</text>
<text x="459.81" y="1069.8" class="xcal" text-anchor="middle" textLength="25.4" lengthAdjust="spacingAndGlyphs">Sept</text>
<text x="510.15" y="1069.8" class="xcal" text-anchor="middle" textLength="19.9" lengthAdjust="spacingAndGlyphs">Oct</text>
<text x="560.49" y="1069.8" class="xcal" text-anchor="middle" textLength="22.75" lengthAdjust="spacingAndGlyphs">Nov</text>
<text x="610.83" y="1069.8" class="xcal" text-anchor="middle" textLength="21.5" lengthAdjust="spacingAndGlyphs">Dec</text>
<text transform="translate(10 1060.5) rotate(-90) scale(0.972 1)" class="lab" text-anchor="middle">mm water</text>
<text transform="translate(680.8 1060.5) rotate(-90) scale(0.915 1)" class="lab" text-anchor="middle">Temperature in °C</text>
<polyline class="red" points="56.49,1044.75 73.28,1040.12 90.06,1040.54 106.84,1026.63 123.63,1018.2 140.41,1009.77 157.2,1012.58 173.98,998.53 190.77,996 207.55,990.66 224.33,1006.12 241.12,1004.15 257.9,1000.5 274.69,983.36 291.47,967.9 308.26,978.3 325.04,964.53 341.82,965.93 358.61,966.78 375.39,969.45 392.18,972.12 408.96,969.45 425.75,972.68 442.53,963.97 459.31,985.6 476.1,995.72 492.88,982.65 509.67,995.86 526.45,979.98 543.24,1001.06 560.02,1013.42 576.8,1025.51 593.59,1019.32 610.37,1032.11 627.16,1029.58"/>
<polyline class="blk" points="56.49,1058.8 73.28,1054.45 90.06,1066.25 106.84,1042.51 123.63,1047.28 140.41,1038.57 157.2,1037.45 173.98,1036.32 190.77,1031.69 207.55,1028.88 224.33,1033.37 241.12,1040.12 257.9,1025.79 274.69,1014.13 291.47,1008.93 308.26,1011.6 325.04,1004.71 341.82,999.93 358.61,1003.03 375.39,1003.03 392.18,1004.15 408.96,1002.18 425.75,1009.77 442.53,1007.38 459.31,1017.64 476.1,1026.35 492.88,1024.8 509.67,1029.16 526.45,1031.13 543.24,1029.16 560.02,1033.65 576.8,1043.07 593.59,1038.29 610.37,1049.81 627.16,1040.96"/>
<path fill="#000" d="M283.3 1015.6 H286.3 V1034.7 H290.2 L284.8 1045.2 L279.4 1034.7 H283.3 Z"/>
<path fill="#000" d="M364.9 1015.6 H367.9 V1034.7 H371.8 L366.4 1045.2 L361 1034.7 H364.9 Z"/>
</g>
</svg>
</body>
</html>
